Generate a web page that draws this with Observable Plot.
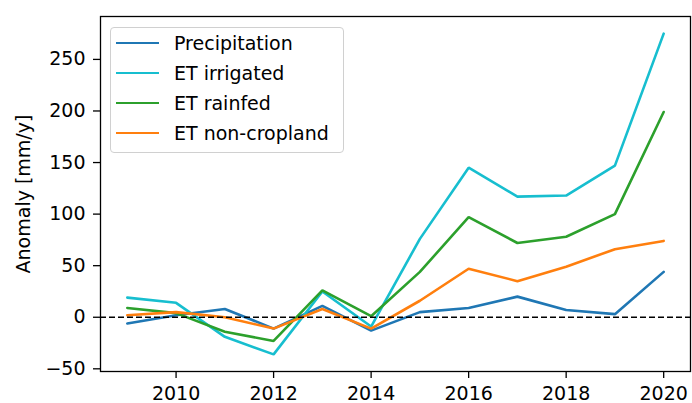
<!DOCTYPE html>
<html>
<head>
<meta charset="utf-8">
<script src="https://cdn.jsdelivr.net/npm/d3@7"></script>
<script src="https://cdn.jsdelivr.net/npm/@observablehq/plot@0.6"></script>
<style>
  html, body { margin: 0; padding: 0; background: #fff; }
  #wrap { position: relative; width: 692px; height: 403px; font-family: "DejaVu Sans", sans-serif; }
  #legend { position: absolute; left: 110px; top: 27px; width: 232px; height: 124px;
    border: 1px solid #d0d0d0; border-radius: 4px; background: rgba(255,255,255,0.8); }
  .row { position: absolute; left: 0; height: 30px; }
  .sw { position: absolute; left: 5px; width: 43px; height: 0; border-top: 2.6px solid; }
  .lab { position: absolute; left: 63px; font-size: 19px; color: #000; white-space: nowrap; line-height: 30px; }
</style>
</head>
<body>
<div id="wrap"></div>
<script>
const years = [2009, 2010, 2011, 2012, 2013, 2014, 2015, 2016, 2017, 2018, 2019, 2020];
const precipitation = [-6, 2, 8, -11, 11, -13, 5, 9, 20, 7, 3, 44];
const etIrrigated = [19, 14, -19, -36, 25, -9, 76, 145, 117, 118, 147, 275];
const etRainfed = [9, 4, -14, -23, 26, 1, 44, 97, 72, 78, 100, 199];
const etNonCropland = [2, 5, 0, -11, 8, -11, 16, 47, 35, 49, 66, 74];
const seriesNames = ["Precipitation", "ET irrigated", "ET rainfed", "ET non-cropland"];
const seriesColors = ["#1f77b4", "#17becf", "#2ca02c", "#ff7f0e"];
const xTicks = [2010, 2012, 2014, 2016, 2018, 2020];
const yTicks = [-50, 0, 50, 100, 150, 200, 250];

const seriesValues = [precipitation, etIrrigated, etRainfed, etNonCropland];
const data = [];
seriesNames.forEach((name, i) => {
  years.forEach((yr, j) => data.push({year: yr, value: seriesValues[i][j], series: name}));
});

const fmtY = d => d < 0 ? "\u2212" + Math.abs(d) : String(d);

const chart = Plot.plot({
  width: 692,
  height: 403,
  marginLeft: 100,
  marginRight: 2,
  marginTop: 16,
  marginBottom: 32,
  style: {fontFamily: "DejaVu Sans, sans-serif", fontSize: "19px", color: "#000", background: "#fff"},
  x: {domain: [2008.45, 2020.55], label: null},
  y: {domain: [-52.6, 291.6], label: null},
  color: {domain: seriesNames, range: seriesColors},
  marks: [
    Plot.axisX({ticks: xTicks, tickFormat: d => String(d), tickSize: 7, tickPadding: 8, label: null, stroke: "#000", strokeWidth: 1.3, strokeOpacity: 1}),
    Plot.axisY({ticks: yTicks, tickFormat: fmtY, tickSize: 7, tickPadding: 8, label: null, stroke: "#000", strokeWidth: 1.3, strokeOpacity: 1}),
    Plot.lineY(data, {x: "year", y: "value", stroke: "series", z: "series", strokeWidth: 2.6, strokeLinejoin: "miter"}),
    Plot.ruleY([0], {stroke: "#000", strokeWidth: 1.3, strokeDasharray: "6,3"}),
    Plot.frame({stroke: "#000", strokeWidth: 1.3}),
    Plot.text(["Anomaly [mm/y]"], {frameAnchor: "left", textAnchor: "middle", dx: -77, dy: 0, rotate: -90, fontSize: 19, fill: "#000"})
  ]
});

const wrap = document.getElementById("wrap");
wrap.appendChild(chart);

const legend = document.createElement("div");
legend.id = "legend";
seriesNames.forEach((name, i) => {
  const row = document.createElement("div");
  row.className = "row";
  row.style.top = (i * 30) + "px";
  row.style.width = "100%";
  const sw = document.createElement("div");
  sw.className = "sw";
  sw.style.borderTopColor = seriesColors[i];
  sw.style.top = "14px";
  const lab = document.createElement("div");
  lab.className = "lab";
  lab.style.top = "0px";
  lab.textContent = name;
  row.appendChild(sw);
  row.appendChild(lab);
  legend.appendChild(row);
});
wrap.appendChild(legend);
</script>
</body>
</html>
